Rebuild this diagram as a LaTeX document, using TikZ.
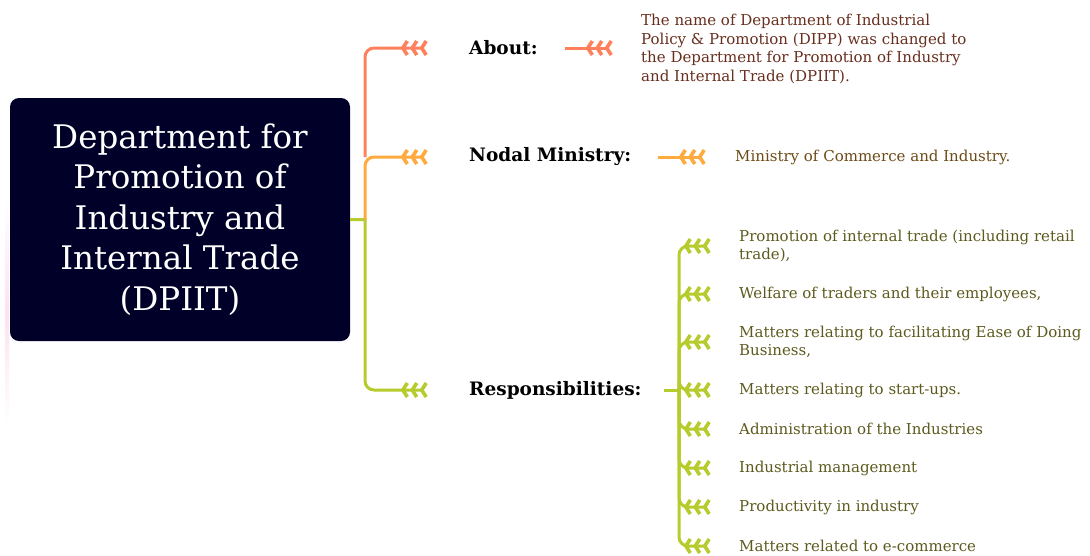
\documentclass[tikz,border=0pt]{standalone}
\usepackage{fontspec}
\setmainfont{DejaVu Serif}
\usetikzlibrary{arrows.meta}

\definecolor{rootbg}{RGB}{0,0,40}
\definecolor{aboutc}{RGB}{255,128,92}
\definecolor{nodalc}{RGB}{255,170,62}
\definecolor{respc}{RGB}{182,203,44}
\definecolor{abouttxt}{RGB}{104,46,30}
\definecolor{nodaltxt}{RGB}{108,74,22}
\definecolor{resptxt}{RGB}{92,90,30}
\definecolor{faintpink}{RGB}{253,226,238}

\tikzset{
  featherend/.style={-{Straight Barb[reversed,length=4.5pt,width=14pt,line width=3.6pt,sep=1pt]
    Straight Barb[reversed,length=4.5pt,width=14pt,line width=3.6pt,sep=1pt]
    Straight Barb[reversed,length=4.5pt,width=14pt,line width=3.6pt]}},
  branch/.style={line width=3pt},
  rootbox/.style={fill=rootbg,rounded corners=9pt,minimum width=340pt,minimum height=243pt,
    text=white,align=center,font=\fontsize{32.5}{40.5}\selectfont},
  lbl/.style={anchor=west,inner sep=0pt,font=\bfseries\fontsize{18.5}{22}\selectfont},
  info/.style={anchor=west,inner sep=0pt,align=left,font=\fontsize{15}{18.5}\selectfont}
}

\begin{document}
\begin{tikzpicture}[x=1pt,y=-1pt]
\useasboundingbox (0,0) rectangle (1090,555);
\shade[top color=white,bottom color=white,middle color=faintpink] (5,200) rectangle (9,425);

	\node[rootbox] (root) at (180,219.5) {Department for\\Promotion of\\Industry and\\Internal Trade\\(DPIIT)};

	\node[lbl] (about) at (469,48) {About:};
	\node[lbl] (nodal) at (469,157) {Nodal Ministry:};
	\node[lbl] (resp) at (469,390) {Responsibilities:};
	\coordinate (hub) at (365,219.5);

	% first level
	\draw[branch,respc,featherend,shorten >=41pt] (root.east) -- (hub) [rounded corners=9pt] |- (resp.west);
	\draw[branch,nodalc,featherend,shorten >=41pt,rounded corners=9pt] (hub) |- (nodal.west);
	\draw[branch,aboutc,featherend,shorten >=41pt,rounded corners=9pt] (hub |- nodal.west) |- (about.west);

	% about and nodal ministry
	\node[info,text=abouttxt] (aboutinfo) at (641,49) {The name of Department of Industrial\\Policy \& Promotion (DIPP) was changed to\\the Department for Promotion of Industry\\and Internal Trade (DPIIT).};
	\draw[branch,aboutc,featherend,shorten <=27pt,shorten >=28pt] (about.east) -- (aboutinfo.west |- about.east);
	\node[info,text=nodaltxt] (nodalinfo) at (735,157) {Ministry of Commerce and Industry.};
	\draw[branch,nodalc,featherend,shorten <=27pt,shorten >=29pt] (nodal.east) -- (nodalinfo.west);

	% responsibilities
	\coordinate (rtrunk) at (679,390);
	\draw[branch,respc,shorten <=22pt] (resp.east) -- (rtrunk);
	\node[info,text=resptxt] (r1) at (739,246) {Promotion of internal trade (including retail\\trade),};
	\node[info,text=resptxt] (r2) at (739,294) {Welfare of traders and their employees,};
	\node[info,text=resptxt] (r3) at (739,342) {Matters relating to facilitating Ease of Doing\\Business,};
	\node[info,text=resptxt] (r4) at (739,390) {Matters relating to start-ups.};
	\node[info,text=resptxt] (r5) at (739,429) {Administration of the Industries};
	\node[info,text=resptxt] (r6) at (739,468) {Industrial management};
	\node[info,text=resptxt] (r7) at (739,507) {Productivity in industry};
	\node[info,text=resptxt] (r8) at (739,546) {Matters related to e-commerce};
	\foreach \n in {r1,r2,r3,r4,r5,r6,r7,r8}
		\draw[branch,respc,featherend,shorten >=28pt,rounded corners=9pt] (rtrunk) |- (\n.west);
\end{tikzpicture}
\end{document}
